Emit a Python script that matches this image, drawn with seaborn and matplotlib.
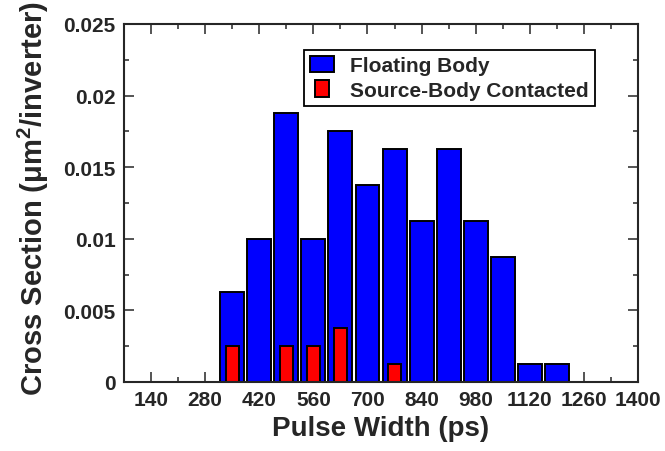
import matplotlib
matplotlib.use("Agg")
import matplotlib.pyplot as plt
import pandas as pd
import seaborn as sns
from matplotlib.legend_handler import HandlerPatch
from matplotlib.patches import Rectangle
from matplotlib.ticker import MultipleLocator, FuncFormatter

# Cross section per pulse width bin (ps)
pulse_width = [350, 420, 490, 560, 630, 700, 770, 840, 910, 980, 1050, 1120, 1190]
floating_body = [0.00625, 0.01, 0.01875, 0.01, 0.0175, 0.01375, 0.01625,
                 0.01125, 0.01625, 0.01125, 0.00875, 0.00125, 0.00125]

contacted_width = [350, 490, 560, 630, 770]
contacted = [0.0025, 0.0025, 0.0025, 0.00375, 0.00125]

x_ticks = [140, 280, 420, 560, 700, 840, 980, 1120, 1260, 1400]

sns.set_style("ticks")
plt.rcParams["font.family"] = ["Liberation Sans", "DejaVu Sans"]
plt.rcParams["font.weight"] = "bold"
plt.rcParams["axes.labelweight"] = "bold"
plt.rcParams["mathtext.fontset"] = "custom"
plt.rcParams["mathtext.rm"] = "Liberation Sans:bold"
plt.rcParams["mathtext.default"] = "rm"

fb_df = pd.DataFrame({"Pulse Width": pulse_width, "Cross Section": floating_body})
sbc_df = pd.DataFrame({"Pulse Width": contacted_width, "Cross Section": contacted})

fig, ax = plt.subplots(figsize=(6.65, 4.52), dpi=100)
fig.subplots_adjust(left=0.1865, right=0.9594, top=0.9447, bottom=0.1527)

sns.barplot(data=fb_df, x="Pulse Width", y="Cross Section", native_scale=True,
            width=0.886, color="#0000ff", saturation=1, edgecolor="black",
            linewidth=1.4, errorbar=None, ax=ax)
sns.barplot(data=sbc_df, x="Pulse Width", y="Cross Section", native_scale=True,
            width=0.47, color="#ff0000", saturation=1, edgecolor="black",
            linewidth=1.4, errorbar=None, ax=ax)

ax.set_xlim(70, 1400)
ax.set_ylim(0, 0.025)
ax.set_xticks(x_ticks)
ax.xaxis.set_minor_locator(MultipleLocator(70))
ax.yaxis.set_major_locator(MultipleLocator(0.005))
ax.yaxis.set_minor_locator(MultipleLocator(0.0025))
ax.yaxis.set_major_formatter(FuncFormatter(lambda v, p: "%g" % round(v, 4)))

# Ticks inside on all four sides, like the original
ax.tick_params(which="both", direction="in", top=True, right=True, width=1.1, labelsize=15)
ax.tick_params(which="major", length=7, pad=6)
ax.tick_params(which="minor", length=3.5)
for side in ["top", "right", "bottom", "left"]:
    ax.spines[side].set_visible(True)
    ax.spines[side].set_linewidth(1.5)

ax.set_xlabel("Pulse Width (ps)", fontsize=20, labelpad=4)
ax.set_ylabel("Cross Section (μm$^2$/inverter)", fontsize=21, labelpad=6)
ax.yaxis.set_label_coords(-0.142, 0.515)


def narrow_patch(legend, orig_handle, xdescent, ydescent, width, height, fontsize):
    return Rectangle((-xdescent + width * 0.21, -ydescent - height * 0.06),
                     width * 0.58, height * 1.12)


blue_handle = Rectangle((0, 0), 1, 1, facecolor="#0000ff", edgecolor="black", linewidth=1.4)
red_handle = Rectangle((0, 0), 1, 1, facecolor="#ff0000", edgecolor="black", linewidth=1.4)
leg = ax.legend([blue_handle, red_handle], ["Floating Body", "Source-Body Contacted"],
                loc="upper left", bbox_to_anchor=(0.350, 0.927), borderaxespad=0,
                fontsize=15, fancybox=False, framealpha=1, edgecolor="black",
                handlelength=1.15, handleheight=0.77, handletextpad=0.77,
                labelspacing=0.25, borderpad=0.3,
                handler_map={red_handle: HandlerPatch(patch_func=narrow_patch)})
leg.get_frame().set_linewidth(1.3)

plt.savefig("out.png", dpi=100)
